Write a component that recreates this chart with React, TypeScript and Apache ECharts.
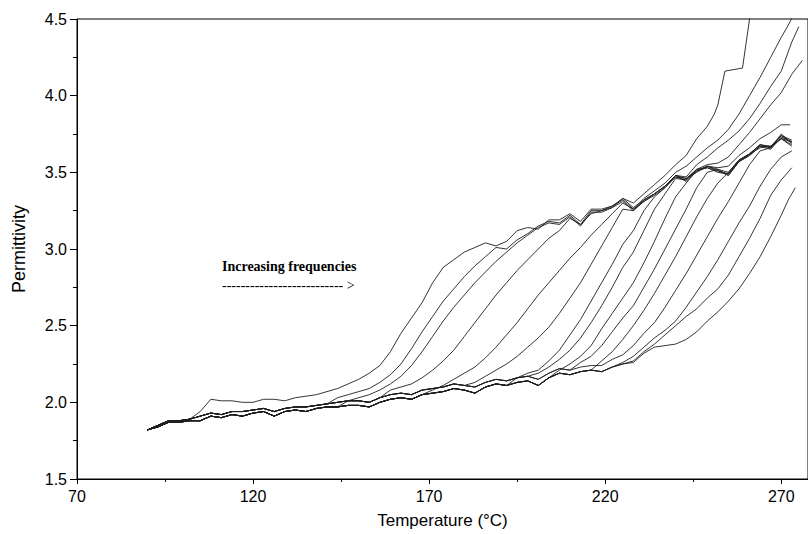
import React, { useEffect, useRef } from "react";
import * as echarts from "echarts";

// Shared low-temperature bundle (all curves overlap here), T in °C
const bundleT = [90, 93, 96, 99, 102, 105, 108, 111, 114, 117, 120, 123, 126, 129, 132, 135, 138, 141, 144, 147, 150, 153, 156, 159, 162, 165, 168, 171, 174, 177, 180, 183, 186, 189, 192, 195, 198, 201, 204, 207, 210, 213, 216, 219, 222, 225, 228];
const bundleHigh = [1.82, 1.85, 1.88, 1.88, 1.89, 1.91, 1.93, 1.92, 1.94, 1.94, 1.95, 1.96, 1.94, 1.96, 1.97, 1.97, 1.98, 1.99, 2.00, 2.01, 2.01, 2.00, 2.03, 2.05, 2.06, 2.05, 2.08, 2.09, 2.10, 2.12, 2.11, 2.10, 2.13, 2.15, 2.14, 2.16, 2.17, 2.15, 2.19, 2.22, 2.21, 2.23, 2.24, 2.24, 2.26, 2.28, 2.28];
const bundleLow = [1.82, 1.84, 1.87, 1.87, 1.88, 1.88, 1.91, 1.90, 1.92, 1.91, 1.93, 1.94, 1.91, 1.94, 1.95, 1.94, 1.96, 1.97, 1.97, 1.98, 1.98, 1.97, 2.00, 2.02, 2.03, 2.02, 2.05, 2.06, 2.07, 2.09, 2.08, 2.06, 2.10, 2.12, 2.11, 2.13, 2.14, 2.11, 2.16, 2.19, 2.18, 2.20, 2.21, 2.20, 2.23, 2.25, 2.25];

// Curves from lowest to highest frequency: [T, permittivity] after leaving the bundle
const c1 = [[105, 1.94], [108, 2.02], [111, 2.01], [114, 2.01], [117, 2.0], [120, 2.0], [123, 2.02], [126, 2.02], [129, 2.01], [132, 2.03], [135, 2.04], [138, 2.05], [141, 2.07], [144, 2.09], [147, 2.12], [150, 2.15], [153, 2.19], [156, 2.24], [159, 2.33], [162, 2.45], [165, 2.55], [168, 2.65], [171, 2.78], [174, 2.88], [177, 2.93], [180, 2.98], [183, 3.01], [186, 3.04], [189, 3.02], [192, 3.05], [195, 3.12], [198, 3.14], [201, 3.13], [204, 3.19], [207, 3.19], [210, 3.23], [213, 3.18], [216, 3.26], [219, 3.26], [222, 3.28], [225, 3.33], [228, 3.30], [231, 3.36], [234, 3.42], [237, 3.48], [240, 3.55], [243, 3.61], [246, 3.72], [249, 3.80], [251, 3.88], [252, 3.94], [254, 4.16], [259, 4.18], [261, 4.5], [262, 4.62]];
const c2 = [[144, 2.03], [147, 2.05], [150, 2.07], [153, 2.09], [156, 2.13], [159, 2.18], [162, 2.25], [165, 2.35], [168, 2.46], [171, 2.56], [174, 2.66], [177, 2.74], [180, 2.82], [183, 2.89], [186, 2.95], [189, 3.01], [192, 3.0], [195, 3.06], [198, 3.10], [201, 3.15], [204, 3.18], [207, 3.17], [210, 3.22], [213, 3.16], [216, 3.25], [219, 3.25], [222, 3.28], [225, 3.32], [228, 3.26], [231, 3.33], [234, 3.38], [237, 3.43], [240, 3.50], [243, 3.54], [246, 3.60], [249, 3.66], [252, 3.71], [255, 3.78], [258, 3.88], [261, 4.0], [264, 4.12], [267, 4.25], [270, 4.38], [272, 4.46], [274, 4.55]];
const c3 = [[147, 2.01], [150, 2.03], [153, 2.05], [156, 2.08], [159, 2.12], [162, 2.17], [165, 2.24], [168, 2.33], [171, 2.43], [174, 2.53], [177, 2.62], [180, 2.70], [183, 2.78], [186, 2.85], [189, 2.92], [192, 2.98], [195, 3.04], [198, 3.09], [201, 3.14], [204, 3.17], [207, 3.16], [210, 3.21], [213, 3.15], [216, 3.24], [219, 3.24], [222, 3.27], [225, 3.31], [228, 3.25], [231, 3.32], [234, 3.36], [237, 3.41], [240, 3.48], [243, 3.47], [246, 3.55], [249, 3.60], [252, 3.66], [255, 3.71], [258, 3.77], [261, 3.85], [264, 3.95], [267, 4.06], [270, 4.16], [273, 4.35], [275, 4.45]];
const c4 = [[159, 2.08], [162, 2.10], [165, 2.12], [168, 2.16], [171, 2.21], [174, 2.27], [177, 2.34], [180, 2.43], [183, 2.52], [186, 2.61], [189, 2.70], [192, 2.78], [195, 2.86], [198, 2.93], [201, 3.0], [204, 3.07], [207, 3.12], [210, 3.20], [213, 3.16], [216, 3.23], [219, 3.25], [222, 3.27], [225, 3.33], [228, 3.27], [231, 3.32], [234, 3.36], [237, 3.41], [240, 3.48], [243, 3.46], [246, 3.52], [249, 3.55], [252, 3.56], [255, 3.60], [258, 3.68], [261, 3.76], [264, 3.85], [267, 3.94], [270, 4.02], [273, 4.14], [276, 4.23]];
const c5 = [[171, 2.08], [174, 2.11], [177, 2.15], [180, 2.19], [183, 2.23], [186, 2.29], [189, 2.36], [192, 2.44], [195, 2.52], [198, 2.61], [201, 2.70], [204, 2.78], [207, 2.86], [210, 2.94], [213, 3.01], [216, 3.09], [219, 3.16], [222, 3.23], [225, 3.30], [228, 3.26], [231, 3.31], [234, 3.35], [237, 3.40], [240, 3.47], [243, 3.45], [246, 3.51], [249, 3.54], [252, 3.53], [255, 3.54], [258, 3.61], [261, 3.66], [264, 3.72], [267, 3.76], [270, 3.81], [272.5, 3.81]];
const c6 = [[183, 2.13], [186, 2.17], [189, 2.21], [192, 2.25], [195, 2.30], [198, 2.36], [201, 2.42], [204, 2.49], [207, 2.58], [210, 2.68], [213, 2.78], [216, 2.90], [219, 3.02], [222, 3.14], [225, 3.26], [228, 3.25], [231, 3.31], [234, 3.36], [237, 3.41], [240, 3.47], [243, 3.46], [246, 3.50], [249, 3.54], [252, 3.51], [255, 3.49], [258, 3.57], [261, 3.61], [264, 3.67], [267, 3.67], [270, 3.72], [273, 3.67]];
const c7 = [[195, 2.16], [198, 2.19], [201, 2.21], [204, 2.27], [207, 2.34], [210, 2.44], [213, 2.54], [216, 2.66], [219, 2.78], [222, 2.90], [225, 3.03], [228, 3.12], [231, 3.25], [234, 3.34], [237, 3.40], [240, 3.48], [243, 3.44], [246, 3.51], [249, 3.53], [252, 3.51], [255, 3.48], [258, 3.57], [261, 3.62], [264, 3.68], [267, 3.66], [270, 3.75], [273, 3.69]];
const c8 = [[201, 2.19], [204, 2.23], [207, 2.28], [210, 2.34], [213, 2.42], [216, 2.52], [219, 2.63], [222, 2.75], [225, 2.88], [228, 2.98], [231, 3.12], [234, 3.26], [237, 3.36], [240, 3.46], [243, 3.45], [246, 3.52], [249, 3.53], [252, 3.50], [255, 3.49], [258, 3.58], [261, 3.62], [264, 3.66], [267, 3.67], [270, 3.74], [273, 3.71]];
const c9 = [[207, 2.21], [210, 2.25], [213, 2.30], [216, 2.37], [219, 2.48], [222, 2.58], [225, 2.68], [228, 2.78], [231, 2.91], [234, 3.05], [237, 3.20], [240, 3.34], [243, 3.43], [246, 3.51], [249, 3.54], [252, 3.52], [255, 3.48], [258, 3.57], [261, 3.61], [264, 3.67], [267, 3.65], [270, 3.73], [273, 3.70]];
const c10 = [[213, 2.26], [216, 2.30], [219, 2.37], [222, 2.46], [225, 2.55], [228, 2.63], [231, 2.75], [234, 2.87], [237, 3.0], [240, 3.13], [243, 3.26], [246, 3.40], [249, 3.50], [252, 3.52], [255, 3.50], [258, 3.58], [261, 3.62], [264, 3.68], [267, 3.66], [270, 3.74], [273, 3.69]];
const c11 = [[219, 2.27], [222, 2.33], [225, 2.41], [228, 2.50], [231, 2.60], [234, 2.71], [237, 2.83], [240, 2.95], [243, 3.08], [246, 3.21], [249, 3.33], [252, 3.43], [255, 3.50], [258, 3.58], [261, 3.62], [264, 3.68], [267, 3.67], [270, 3.72], [273, 3.70]];
const c12 = [[222, 2.28], [225, 2.31], [228, 2.37], [231, 2.45], [234, 2.52], [237, 2.62], [240, 2.73], [243, 2.84], [246, 2.96], [249, 3.08], [252, 3.20], [255, 3.31], [258, 3.43], [261, 3.55], [264, 3.64], [267, 3.66], [270, 3.72], [273, 3.68]];
const c13 = [[225, 2.26], [228, 2.30], [231, 2.36], [234, 2.42], [237, 2.47], [240, 2.53], [243, 2.62], [246, 2.72], [249, 2.82], [252, 2.93], [255, 3.05], [258, 3.17], [261, 3.28], [264, 3.41], [267, 3.52], [270, 3.60], [273, 3.64]];
const c14 = [[228, 2.27], [231, 2.33], [234, 2.38], [237, 2.44], [240, 2.50], [243, 2.56], [246, 2.61], [249, 2.68], [252, 2.74], [255, 2.83], [258, 2.95], [261, 3.07], [264, 3.20], [267, 3.35], [270, 3.45], [273, 3.53]];
const c15 = [[228, 2.26], [231, 2.32], [234, 2.36], [237, 2.37], [240, 2.38], [243, 2.41], [246, 2.46], [249, 2.53], [252, 2.59], [255, 2.66], [258, 2.74], [261, 2.84], [264, 2.95], [267, 3.08], [270, 3.22], [272, 3.32], [274, 3.40]];

const curveTails = [c1, c2, c3, c4, c5, c6, c7, c8, c9, c10, c11, c12, c13, c14, c15];
// which bundle each curve follows before it departs (H = high edge, L = low edge)
const curveBundle = ["H", "H", "L", "H", "L", "H", "L", "H", "L", "H", "L", "H", "L", "L", "L"];

const xTicks = [70, 120, 170, 220, 270];
const yTicks = [1.5, 2.0, 2.5, 3.0, 3.5, 4.0, 4.5];
const xTitle = "Temperature (°C)";
const yTitle = "Permittivity";
const noteText = "Increasing frequencies";
const noteArrow = "-------------------------- >";

function buildCurve(tail: number[][], which: string): number[][] {
  const base = which === "H" ? bundleHigh : bundleLow;
  const start = tail[0][0];
  const pts: number[][] = [];
  for (let i = 0; i < bundleT.length; i++) {
    if (bundleT[i] < start) pts.push([bundleT[i], base[i]]);
  }
  return pts.concat(tail);
}

export default function App() {
  const ref = useRef<HTMLDivElement>(null);
  useEffect(() => {
    if (!ref.current) return;
    const chart = echarts.init(ref.current, null, { renderer: "svg" });
    const font = "'Liberation Sans', Arial, sans-serif";
    const series = curveTails.map((t, i) => ({
      type: "line",
      data: buildCurve(t, curveBundle[i]),
      showSymbol: false,
      symbol: "none",
      clip: true,
      lineStyle: { color: "#1e1e1e", width: 0.9 },
      z: 2,
    }));
    chart.setOption({
      animation: false,
      backgroundColor: "#ffffff",
      grid: { left: 77, right: -2, top: 19, bottom: 52, show: true, borderColor: "#000", borderWidth: 1, backgroundColor: "transparent" },
      xAxis: {
        type: "value",
        min: xTicks[0],
        max: 277.6,
        interval: 50,
        name: xTitle,
        nameLocation: "middle",
        nameGap: 33,
        nameTextStyle: { color: "#000", fontSize: 17, fontFamily: font },
        axisLine: { show: true, lineStyle: { color: "#000", width: 1 } },
        axisTick: { show: true, inside: false, length: 5, lineStyle: { color: "#000" } },
        minorTick: { show: true, splitNumber: 2, length: 3, lineStyle: { color: "#000" } },
        splitLine: { show: false },
        axisLabel: { color: "#000", fontSize: 16, fontFamily: font, margin: 9, showMaxLabel: false },
      },
      yAxis: {
        type: "value",
        min: yTicks[0],
        max: yTicks[yTicks.length - 1],
        interval: 0.5,
        name: yTitle,
        nameLocation: "middle",
        nameGap: 49,
        nameTextStyle: { color: "#000", fontSize: 18, fontFamily: font },
        axisLine: { show: true, lineStyle: { color: "#000", width: 1 } },
        axisTick: { show: true, inside: false, length: 7, lineStyle: { color: "#000" } },
        minorTick: { show: true, splitNumber: 2, length: 4, lineStyle: { color: "#000" } },
        splitLine: { show: false },
        axisLabel: { color: "#000", fontSize: 16, fontFamily: font, margin: 10, formatter: (v: number) => v.toFixed(1) },
      },
      graphic: [
        { type: "text", left: 222, top: 259, style: { text: noteText, font: "bold 14px 'Liberation Serif', 'Times New Roman', serif", fill: "#000" } },
        { type: "text", left: 222, top: 278, style: { text: noteArrow, font: "14px 'Liberation Serif', 'Times New Roman', serif", fill: "#000" } },
      ],
      series,
    });
    return () => chart.dispose();
  }, []);
  return <div ref={ref} style={{ position: "fixed", left: 0, top: 0, width: 808, height: 534 }} />;
}
